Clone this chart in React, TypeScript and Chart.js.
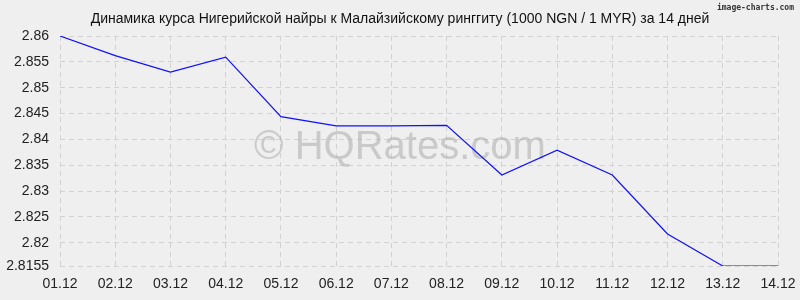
import React, { useEffect, useRef } from "react";
import { Chart, registerables } from "chart.js";

Chart.register(...registerables);

const titleText = "Динамика курса Нигерийской найры к Малайзийскому ринггиту (1000 NGN / 1 MYR) за 14 дней";
const categories = ["01.12", "02.12", "03.12", "04.12", "05.12", "06.12", "07.12", "08.12", "09.12", "10.12", "11.12", "12.12", "13.12", "14.12"];
const rates = [2.86, 2.8562, 2.853, 2.8559, 2.8444, 2.8426, 2.8426, 2.8427, 2.8331, 2.8379, 2.8331, 2.8217, 2.8155, 2.8155];
const yTicks = [2.8155, 2.82, 2.825, 2.83, 2.835, 2.84, 2.845, 2.85, 2.855, 2.86];
const yMin = 2.8155;
const yMax = 2.86;

const decorPlugin = {
  id: "decor",
  beforeDraw(chart: any) {
    const ctx = chart.ctx;
    ctx.save();
    ctx.fillStyle = "#efefef";
    ctx.fillRect(0, 0, chart.width, chart.height);
    ctx.restore();
  },
  beforeDatasetsDraw(chart: any) {
    const ctx = chart.ctx;
    ctx.save();
    ctx.fillStyle = "rgba(165,165,165,0.5)";
    ctx.font = "40px 'Liberation Sans'";
    ctx.textAlign = "center";
    ctx.textBaseline = "middle";
    ctx.fillText("© HQRates.com", 400, 148);
    ctx.restore();
  },
  afterDraw(chart: any) {
    const ctx = chart.ctx;
    ctx.save();
    ctx.fillStyle = "#111";
    ctx.font = "14px 'Liberation Sans'";
    ctx.textAlign = "center";
    ctx.textBaseline = "middle";
    ctx.fillText(titleText, 400, 19);
    ctx.fillStyle = "#333";
    ctx.font = "bold 8px 'DejaVu Sans Mono'";
    ctx.textAlign = "right";
    ctx.fillText("image-charts.com", 794, 8);
    ctx.restore();
  },
};

export default function App() {
  const ref = useRef<HTMLCanvasElement>(null);
  useEffect(() => {
    if (!ref.current) return;
    const chart = new Chart(ref.current, {
      type: "line",
      data: {
        labels: categories,
        datasets: [
          {
            data: rates,
            borderColor: "#1010ff",
            borderWidth: 1.2,
            pointRadius: 0,
            tension: 0,
            fill: false,
          },
        ],
      },
      options: {
        animation: false,
        responsive: false,
        maintainAspectRatio: false,
        layout: { padding: { top: 36, right: 22, left: 0, bottom: 0 } },
        plugins: { legend: { display: false }, title: { display: false }, tooltip: { enabled: false } },
        scales: {
          x: {
            offset: false,
            border: { display: false, dash: [5, 4] },
            grid: { color: "#d2d2d2", drawTicks: false },
            ticks: { color: "#222", font: { family: "'Liberation Sans'", size: 14 }, padding: 10, maxRotation: 0, autoSkip: false },
            afterFit: (s: any) => { s.height = 34; s.paddingLeft = 0; s.paddingRight = 0; },
          } as any,
          y: {
            min: yMin,
            max: yMax,
            border: { display: false, dash: [5, 4] },
            grid: { color: "#d2d2d2", drawTicks: false },
            ticks: { color: "#222", font: { family: "'Liberation Sans'", size: 14 }, padding: 11, callback: (v: any) => String(+Number(v).toFixed(4)) },
            afterBuildTicks: (s: any) => { s.ticks = yTicks.map((v) => ({ value: v })); },
            afterFit: (s: any) => { s.width = 60; s.paddingTop = 0; s.paddingBottom = 0; },
          } as any,
        },
      },
      plugins: [decorPlugin],
    });
    return () => chart.destroy();
  }, []);
  return (
    <div style={{ position: "fixed", left: 0, top: 0, width: 800, height: 300 }}>
      <canvas ref={ref} width={800} height={300} style={{ display: "block" }} />
    </div>
  );
}
